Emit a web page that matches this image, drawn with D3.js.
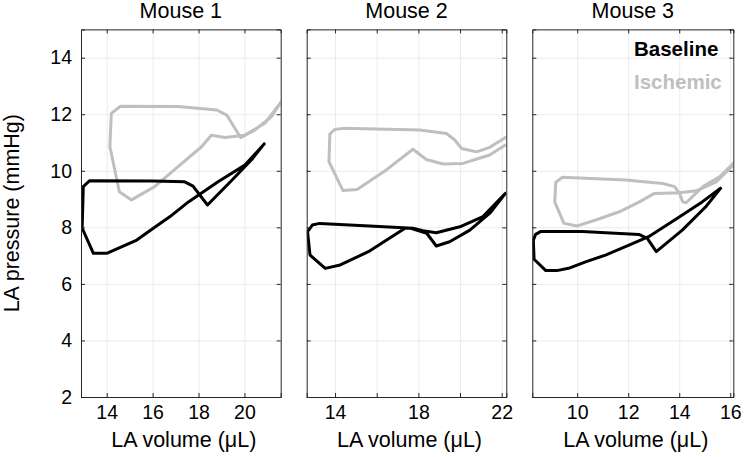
<!DOCTYPE html>
<html>
<head>
<meta charset="utf-8">
<script src="https://cdn.jsdelivr.net/npm/d3@7"></script>
<style>
  body { margin: 0; background: #fff; }
  text { font-family: "Liberation Sans", Arial, sans-serif; }
</style>
</head>
<body>
<svg id="chart" width="746" height="457"></svg>
<script>
// pressure-volume loops: [LA volume (uL), LA pressure (mmHg)]
var m1Baseline = [[20.86,10.95],[20.3,10.38],[19.4,9.62],[18.39,8.79],[17.76,9.46],[17.4,9.61],[16,9.64],[13.26,9.65],[12.98,9.44],[12.93,7.97],[13.42,7.08],[14.0,7.08],[15.31,7.55],[16.03,7.97],[16.76,8.38],[17.56,8.9],[18.85,9.61],[20.02,10.2],[20.86,10.95]];
var m1Ischemic = [[21.6,12.44],[21.18,11.91],[20.45,11.44],[19.84,11.17],[19.23,11.97],[18.8,12.15],[17.1,12.27],[14.6,12.28],[14.2,12.03],[14.14,10.85],[14.55,9.26],[15.08,8.97],[16.09,9.44],[17.11,10.15],[18.13,10.85],[18.56,11.26],[19.15,11.18],[20.02,11.26],[20.89,11.68],[21.6,12.44]];

var m2Baseline = [[22.18,9.2],[21.1,8.38],[19.99,8.02],[18.86,7.81],[18.22,7.88],[17.74,7.97],[15.66,8.05],[13.26,8.14],[12.91,8.08],[12.68,7.85],[12.8,7.02],[13.53,6.55],[14.25,6.67],[15.6,7.14],[16.72,7.67],[17.36,7.97],[17.6,7.97],[18.4,7.79],[18.86,7.34],[19.5,7.49],[20.47,7.9],[21.43,8.5],[22.18,9.2]];
var m2Ischemic = [[22.18,11.18],[21.43,10.83],[20.79,10.67],[20.07,10.79],[19.75,11.09],[19.35,11.32],[18.07,11.44],[14.38,11.5],[13.98,11.46],[13.75,11.3],[13.71,10.32],[14.38,9.3],[15.06,9.34],[16.46,10.03],[17.74,10.76],[18.38,10.4],[19.18,10.24],[20.14,10.26],[21.42,10.56],[22.18,10.91]];

var m3Baseline = [[15.62,9.38],[15.04,8.73],[14.12,7.9],[13.1,7.14],[12.75,7.61],[12.42,7.75],[10.2,7.85],[8.56,7.85],[8.37,7.75],[8.28,7.55],[8.31,6.87],[8.77,6.47],[9.2,6.47],[9.66,6.55],[10.33,6.78],[11.11,7.02],[12.03,7.37],[12.8,7.67],[13.85,8.28],[14.9,8.9],[15.62,9.38]];
var m3Ischemic = [[16.12,10.26],[15.58,9.79],[14.93,9.44],[14.27,8.87],[14.14,8.9],[14.01,9.2],[13.82,9.44],[13.36,9.55],[11.9,9.67],[9.42,9.77],[9.16,9.59],[9.12,8.9],[9.48,8.14],[10.0,8.05],[10.73,8.26],[11.65,8.55],[12.44,8.9],[13.03,9.2],[14.01,9.22],[14.67,9.29],[15.45,9.61],[16.12,10.2]];

var titles = ["Mouse 1", "Mouse 2", "Mouse 3"];
var xDomains = [[12.88, 21.58], [12.64, 22.22], [8.24, 16.12]];
var xGridTicks = [[14, 16, 18, 20], [14, 16, 18, 20, 22], [10, 12, 14, 16]];
var xLabelTicks = [[14, 16, 18, 20], [14, 18, 22], [10, 12, 14, 16]];
var yTicks = [2, 4, 6, 8, 10, 12, 14];
var seriesNames = ["Baseline", "Ischemic"];
var seriesColors = ["#000000", "#bfbfbf"];

var panelData = [
    [m1Baseline, m1Ischemic],
    [m2Baseline, m2Ischemic],
    [m3Baseline, m3Ischemic]
];

var svg = d3.select("#chart");
var left = [81, 306.7, 532.3];
var right = [280.7, 506.3, 733.3];
var plotTop = 29.4, plotBottom = 397;
var tickFont = 19.5, labelFont = 21.5;

var y = d3.scaleLinear().domain([2, 15]).range([plotBottom, plotTop]);

panelData.forEach(function (series, i) {
    var x = d3.scaleLinear().domain(xDomains[i]).range([left[i], right[i]]);
    var w = right[i] - left[i], h = plotBottom - plotTop;

    var g = svg.append("g");

    // grid
    g.append("g")
        .attr("transform", "translate(0," + plotBottom + ")")
        .call(d3.axisBottom(x).tickValues(xGridTicks[i]).tickSize(-h).tickFormat(""))
        .call(function (a) {
            a.select(".domain").remove();
            a.selectAll("line").attr("stroke", "#ebebeb");
        });
    g.append("g")
        .attr("transform", "translate(" + left[i] + ",0)")
        .call(d3.axisLeft(y).tickValues(yTicks).tickSize(-w).tickFormat(""))
        .call(function (a) {
            a.select(".domain").remove();
            a.selectAll("line").attr("stroke", "#ebebeb");
        });

    // loops
    svg.append("clipPath").attr("id", "clip" + i)
        .append("rect")
        .attr("x", left[i]).attr("y", plotTop)
        .attr("width", w).attr("height", h);

    var line = d3.line()
        .x(function (d) { return x(d[0]); })
        .y(function (d) { return y(d[1]); });

    // draw ischemic first, baseline on top
    [1, 0].forEach(function (k) {
        g.append("path")
            .datum(series[k])
            .attr("clip-path", "url(#clip" + i + ")")
            .attr("d", line)
            .attr("fill", "none")
            .attr("stroke", seriesColors[k])
            .attr("stroke-width", 3)
            .attr("stroke-linejoin", "round")
            .attr("stroke-linecap", "round");
    });

    // axes with inward ticks on all four sides
    var xb = g.append("g")
        .attr("transform", "translate(0," + plotBottom + ")")
        .call(d3.axisBottom(x).tickValues(xGridTicks[i]).tickSize(-4).tickPadding(8)
            .tickFormat(function (d) { return xLabelTicks[i].indexOf(d) >= 0 ? d : ""; }));
    var xt = g.append("g")
        .attr("transform", "translate(0," + plotTop + ")")
        .call(d3.axisTop(x).tickValues(xGridTicks[i]).tickSize(-4).tickFormat(""));
    var yl = g.append("g")
        .attr("transform", "translate(" + left[i] + ",0)")
        .call(d3.axisLeft(y).tickValues(yTicks).tickSize(-4).tickPadding(9)
            .tickFormat(i === 0 ? d3.format("d") : ""));
    var yr = g.append("g")
        .attr("transform", "translate(" + right[i] + ",0)")
        .call(d3.axisRight(y).tickValues(yTicks).tickSize(-4).tickFormat(""));

    [xb, xt, yl, yr].forEach(function (a) {
        a.select(".domain").attr("stroke", "#262626").attr("stroke-width", 1);
        a.selectAll(".tick line").attr("stroke", "#262626");
        a.selectAll("text")
            .attr("font-family", "Liberation Sans, Arial, sans-serif")
            .attr("font-size", tickFont)
            .attr("fill", "#000");
    });

    // title
    g.append("text")
        .attr("x", (left[i] + right[i]) / 2)
        .attr("y", 17.5)
        .attr("text-anchor", "middle")
        .attr("font-size", labelFont)
        .text(titles[i]);

    // x label
    g.append("text")
        .attr("x", (left[i] + right[i]) / 2 + 3)
        .attr("y", 447)
        .attr("text-anchor", "middle")
        .attr("font-size", labelFont)
        .text("LA volume (\u03bcL)");
});

// y label
svg.append("text")
    .attr("transform", "translate(19," + ((plotTop + plotBottom) / 2) + ") rotate(-90)")
    .attr("text-anchor", "middle")
    .attr("font-size", labelFont)
    .text("LA pressure (mmHg)");

// legend
var legend = svg.append("g");
seriesNames.forEach(function (name, k) {
    legend.append("text")
        .attr("x", 634)
        .attr("y", 55.7 + k * 33.5)
        .attr("font-size", 20.5)
        .attr("font-weight", "bold")
        .attr("fill", seriesColors[k])
        .text(name);
});
</script>
</body>
</html>
